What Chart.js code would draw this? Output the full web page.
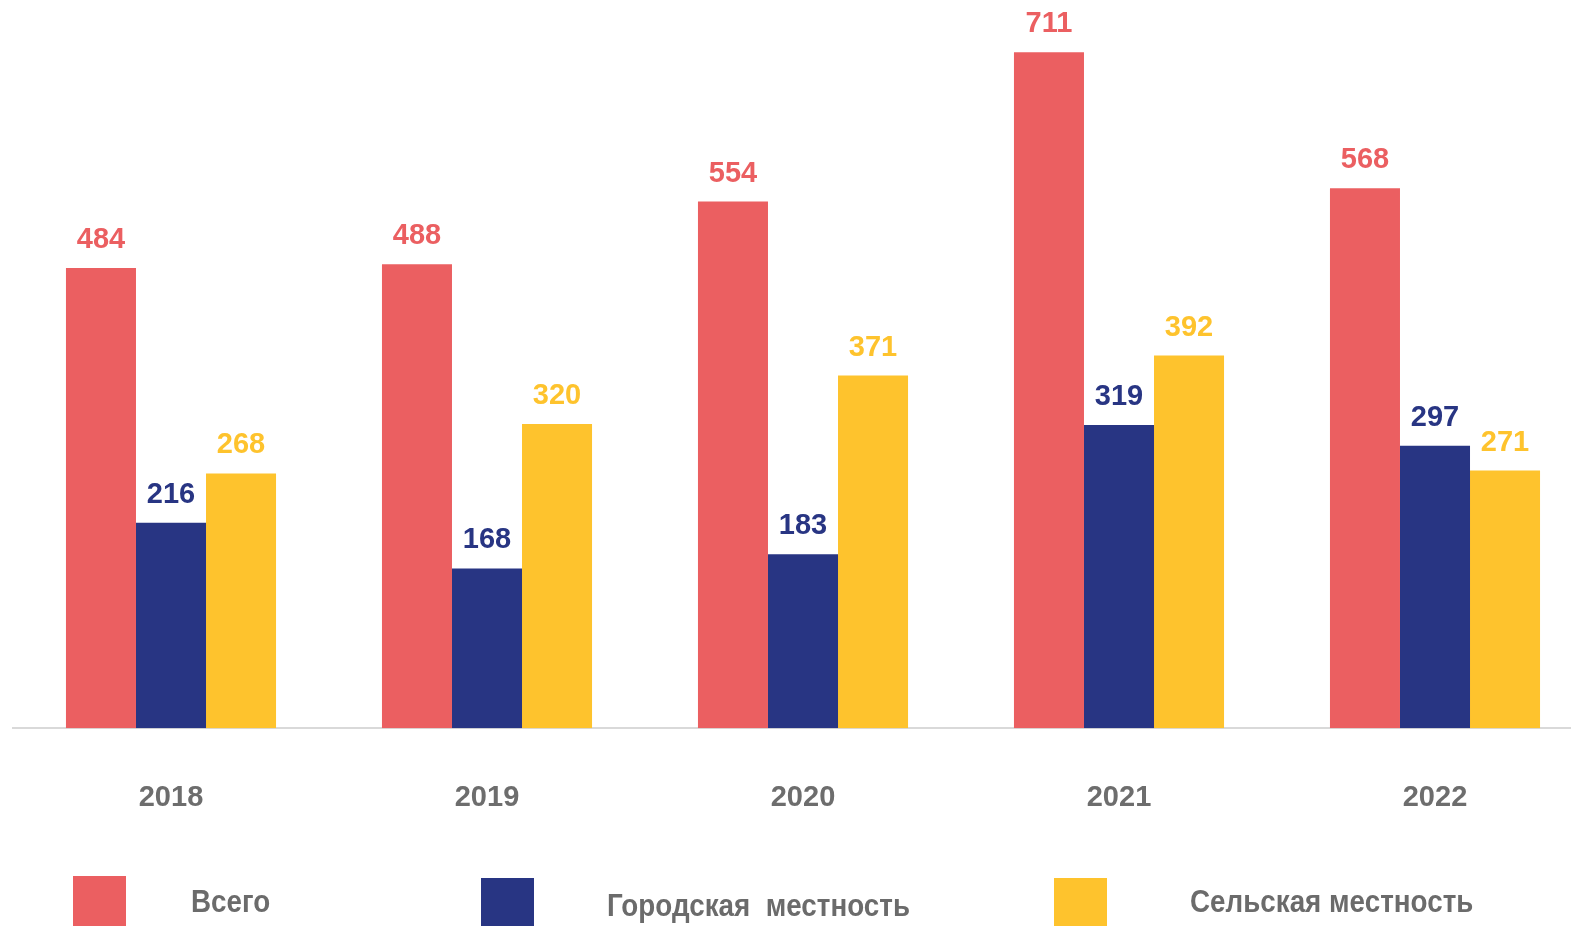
<!DOCTYPE html>
<html>
<head>
<meta charset="utf-8">
<script src="https://cdn.jsdelivr.net/npm/chart.js@4/dist/chart.umd.min.js"></script>
<style>
  html, body { margin: 0; padding: 0; background: #fff; overflow: hidden; }
  #wrap { width: 1595px; height: 926px; }
</style>
</head>
<body>
<div id="wrap"><canvas id="myChart" width="1595" height="926"></canvas></div>
<script>
// data
const years = ['2018', '2019', '2020', '2021', '2022'];
const total = [484, 488, 554, 711, 568];
const urban = [216, 168, 183, 319, 297];
const rural = [268, 320, 371, 392, 271];
const seriesNames = ['Всего', 'Городская  местность', 'Сельская местность'];
const colors = ['#EB5F61', '#283583', '#FEC32D'];

// value labels above bars
const barLabels = {
  id: 'barLabels',
  afterDatasetsDraw(chart) {
    const ctx = chart.ctx;
    ctx.save();
    ctx.font = 'bold 29px "Liberation Sans", Arial, sans-serif';
    ctx.textAlign = 'center';
    ctx.textBaseline = 'middle';
    chart.data.datasets.forEach((ds, i) => {
      const meta = chart.getDatasetMeta(i);
      ctx.fillStyle = ds.backgroundColor;
      meta.data.forEach((bar, j) => {
        ctx.fillText(ds.data[j], bar.x, bar.y - 28);
      });
    });
    ctx.restore();
  }
};

// legend at the bottom (irregular spacing as in the original)
const legendSpots = [
  { box: 73, boxTop: 876, text: 191, textY: 903 },
  { box: 481, boxTop: 878, text: 607, textY: 907 },
  { box: 1054, boxTop: 878, text: 1190, textY: 903 }
];
const bottomLegend = {
  id: 'bottomLegend',
  afterDraw(chart) {
    const ctx = chart.ctx;
    ctx.save();
    chart.data.datasets.forEach((ds, i) => {
      const s = legendSpots[i];
      ctx.fillStyle = ds.backgroundColor;
      ctx.fillRect(s.box, s.boxTop, 53, 60);
      ctx.save();
      ctx.translate(s.text, s.textY);
      ctx.scale(1, 1.12);
      ctx.fillStyle = '#6b6b6b';
      ctx.font = 'bold 27.8px "Liberation Sans", Arial, sans-serif';
      ctx.textAlign = 'left';
      ctx.textBaseline = 'middle';
      ctx.fillText(ds.label, 0, 0);
      ctx.restore();
    });
    ctx.restore();
  }
};

const ctx = document.getElementById('myChart').getContext('2d');
const myChart = new Chart(ctx, {
  type: 'bar',
  data: {
    labels: years,
    datasets: [
      { label: seriesNames[0], data: total, backgroundColor: colors[0] },
      { label: seriesNames[1], data: urban, backgroundColor: colors[1] },
      { label: seriesNames[2], data: rural, backgroundColor: colors[2] }
    ]
  },
  options: {
    responsive: false,
    animation: false,
    layout: { padding: { left: 13, right: 2, top: 0, bottom: 59 } },
    datasets: { bar: { categoryPercentage: 0.6648, barPercentage: 1.0, borderWidth: 0 } },
    plugins: { legend: { display: false }, tooltip: { enabled: false } },
    scales: {
      x: {
        grid: { display: true, color: 'rgba(0,0,0,0)', drawTicks: false },
        border: { display: true, color: '#d9d9d9', width: 2 },
        ticks: {
          color: '#6d6d6d',
          padding: 52,
          font: { family: '"Liberation Sans", Arial, sans-serif', size: 29, weight: 'bold' }
        }
      },
      y: {
        display: false,
        min: 0,
        max: 766
      }
    }
  },
  plugins: [barLabels, bottomLegend]
});
</script>
</body>
</html>
